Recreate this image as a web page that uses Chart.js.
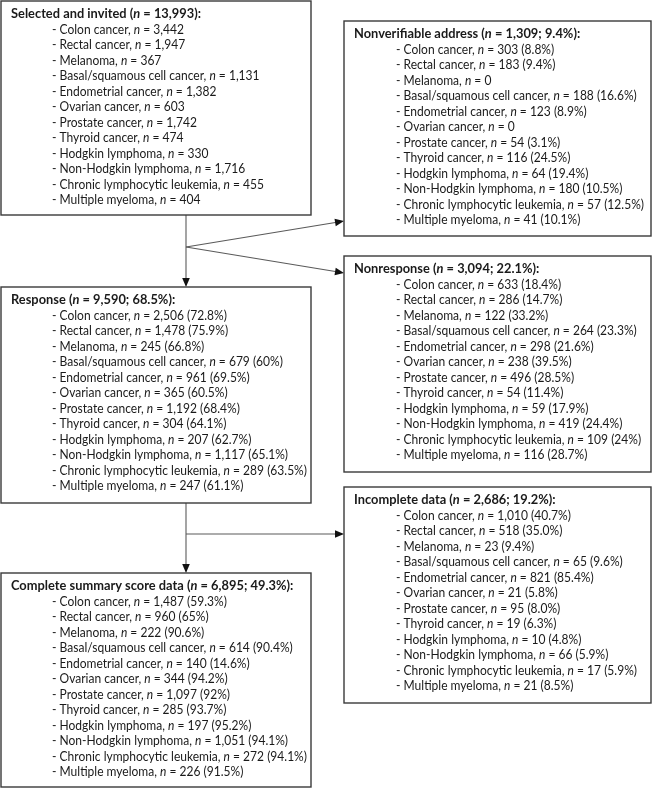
<!DOCTYPE html>
<html>
<head>
<meta charset="utf-8">
<script src="https://cdn.jsdelivr.net/npm/chart.js@4.4.0/dist/chart.umd.min.js"></script>
<style>
  html, body { margin: 0; padding: 0; background: #ffffff; }
  #wrap { position: relative; width: 653px; height: 788px; }
</style>
</head>
<body>
<div id="wrap"><canvas id="c"></canvas></div>
<script>
// ---------- DATA ----------
const cancers = ["Colon cancer", "Rectal cancer", "Melanoma", "Basal/squamous cell cancer",
  "Endometrial cancer", "Ovarian cancer", "Prostate cancer", "Thyroid cancer",
  "Hodgkin lymphoma", "Non-Hodgkin lymphoma", "Chronic lymphocytic leukemia", "Multiple myeloma"];

const invitedN = [3442, 1947, 367, 1131, 1382, 603, 1742, 474, 330, 1716, 455, 404];

const nonverifiableN = [303, 183, 0, 188, 123, 0, 54, 116, 64, 180, 57, 41];
const nonverifiablePct = ["8.8", "9.4", null, "16.6", "8.9", null, "3.1", "24.5", "19.4", "10.5", "12.5", "10.1"];

const responseN = [2506, 1478, 245, 679, 961, 365, 1192, 304, 207, 1117, 289, 247];
const responsePct = ["72.8", "75.9", "66.8", "60", "69.5", "60.5", "68.4", "64.1", "62.7", "65.1", "63.5", "61.1"];

const nonresponseN = [633, 286, 122, 264, 298, 238, 496, 54, 59, 419, 109, 116];
const nonresponsePct = ["18.4", "14.7", "33.2", "23.3", "21.6", "39.5", "28.5", "11.4", "17.9", "24.4", "24", "28.7"];

const incompleteN = [1010, 518, 23, 65, 821, 21, 95, 19, 10, 66, 17, 21];
const incompletePct = ["40.7", "35.0", "9.4", "9.6", "85.4", "5.8", "8.0", "6.3", "4.8", "5.9", "5.9", "8.5"];

const completeN = [1487, 960, 222, 614, 140, 344, 1097, 285, 197, 1051, 272, 226];
const completePct = ["59.3", "65", "90.6", "90.4", "14.6", "94.2", "92", "93.7", "95.2", "94.1", "94.1", "91.5"];

const boxTitles = ["Selected and invited", "Nonverifiable address", "Response", "Nonresponse", "Incomplete data", "Complete summary score data"];
const boxTotals = [13993, 1309, 9590, 3094, 2686, 6895];
const boxTotalPct = [null, "9.4", "68.5", "22.1", "19.2", "49.3"];

// ---------- LAYOUT (page coordinates, not data) ----------
const layout = {
  boxes: [
    { x0: 1,   y0: 1,   x1: 311, y1: 215, itemX: 52 },
    { x0: 344, y0: 21,  x1: 651, y1: 236, itemX: 396 },
    { x0: 1,   y0: 287, x1: 311, y1: 503, itemX: 52 },
    { x0: 344, y0: 256, x1: 651, y1: 472, itemX: 396 },
    { x0: 344, y0: 487, x1: 651, y1: 703, itemX: 396 },
    { x0: 1,   y0: 573, x1: 311, y1: 787, itemX: 52 }
  ],
  titleInset: 10, titleOffset: 13, lineStep: 15.5,
  arrows: [
    { from: [186, 215], to: [186, 287] },
    { from: [186, 247], to: [344, 221] },
    { from: [186, 247], to: [344, 273] },
    { from: [186, 503], to: [186, 573] },
    { from: [186, 534], to: [344, 534] }
  ]
};

const boxSeries = [
  { n: invitedN, pct: null },
  { n: nonverifiableN, pct: nonverifiablePct },
  { n: responseN, pct: responsePct },
  { n: nonresponseN, pct: nonresponsePct },
  { n: incompleteN, pct: incompletePct },
  { n: completeN, pct: completePct }
];

const FONT = "Lato";
const FS = 12.6;
const ITEM_SQUEEZE = 0.955;
const TITLE_SQUEEZE = 1.02;
const fmt = v => v.toLocaleString("en-US");

function drawSegments(ctx, x, y, segs, squeeze) {
  ctx.save();
  ctx.translate(x, y);
  ctx.scale(squeeze, 1);
  let cx = 0;
  for (const s of segs) {
    ctx.font = s.font;
    ctx.fillText(s.t, cx, 0);
    cx += ctx.measureText(s.t).width;
  }
  ctx.restore();
}

const flowPlugin = {
  id: "flow",
  afterDraw(chart) {
    const ctx = chart.ctx;
    const sx = chart.scales.x, sy = chart.scales.y;
    const X = v => sx.getPixelForValue(v);
    const Y = v => sy.getPixelForValue(v);
    ctx.save();

    // arrows
    for (const a of layout.arrows) {
      const x0 = X(a.from[0]), y0 = Y(a.from[1]), x1 = X(a.to[0]), y1 = Y(a.to[1]);
      const ang = Math.atan2(y1 - y0, x1 - x0);
      const L = 9, W = 3.8;
      ctx.strokeStyle = "#5a5a5a";
      ctx.lineWidth = 1.1;
      ctx.beginPath();
      ctx.moveTo(x0, y0);
      ctx.lineTo(x1 - Math.cos(ang) * L * 0.8, y1 - Math.sin(ang) * L * 0.8);
      ctx.stroke();
      ctx.fillStyle = "#111111";
      ctx.beginPath();
      ctx.moveTo(x1, y1);
      ctx.lineTo(x1 - Math.cos(ang) * L - Math.sin(ang) * W, y1 - Math.sin(ang) * L + Math.cos(ang) * W);
      ctx.lineTo(x1 - Math.cos(ang) * L + Math.sin(ang) * W, y1 - Math.sin(ang) * L - Math.cos(ang) * W);
      ctx.closePath();
      ctx.fill();
    }

    // boxes
    layout.boxes.forEach((b, i) => {
      const x0 = X(b.x0), y0 = Y(b.y0), x1 = X(b.x1), y1 = Y(b.y1);
      ctx.fillStyle = "#ffffff";
      ctx.fillRect(x0, y0, x1 - x0, y1 - y0);
      ctx.strokeStyle = "#3a3a3a";
      ctx.lineWidth = 1.4;
      ctx.strokeRect(x0, y0, x1 - x0, y1 - y0);

      ctx.fillStyle = "#1a1a1a";
      ctx.textBaseline = "middle";
      ctx.textAlign = "left";
      const ty = Y(b.y0 + layout.titleOffset);
      const tail = " = " + fmt(boxTotals[i]) + (boxTotalPct[i] ? "; " + boxTotalPct[i] + "%" : "") + "):";
      drawSegments(ctx, X(b.x0 + layout.titleInset), ty, [
        { t: boxTitles[i] + " (", font: "bold " + FS + "px " + FONT },
        { t: "n", font: "italic bold " + FS + "px " + FONT },
        { t: tail, font: "bold " + FS + "px " + FONT }
      ], TITLE_SQUEEZE);
      const ser = boxSeries[i];
      cancers.forEach((c, k) => {
        const yy = Y(b.y0 + layout.titleOffset + layout.lineStep * (k + 1));
        const p = ser.pct ? ser.pct[k] : null;
        const t2 = " = " + fmt(ser.n[k]) + (p !== null ? " (" + p + "%)" : "");
        drawSegments(ctx, X(b.itemX), yy, [
          { t: "- " + c + ", ", font: FS + "px " + FONT },
          { t: "n", font: "italic " + FS + "px " + FONT },
          { t: t2, font: FS + "px " + FONT }
        ], ITEM_SQUEEZE);
      });
    });
    ctx.restore();
  }
};

new Chart(document.getElementById("c"), {
  type: "scatter",
  data: { datasets: [{ data: [], pointRadius: 0 }] },
  options: {
    responsive: true,
    maintainAspectRatio: false,
    animation: false,
    events: [],
    layout: { padding: 0 },
    plugins: { legend: { display: false }, tooltip: { enabled: false } },
    scales: {
      x: { type: "linear", min: 0, max: 653, display: false },
      y: { type: "linear", min: 0, max: 788, reverse: true, display: false }
    }
  },
  plugins: [flowPlugin]
});
</script>
</body>
</html>
